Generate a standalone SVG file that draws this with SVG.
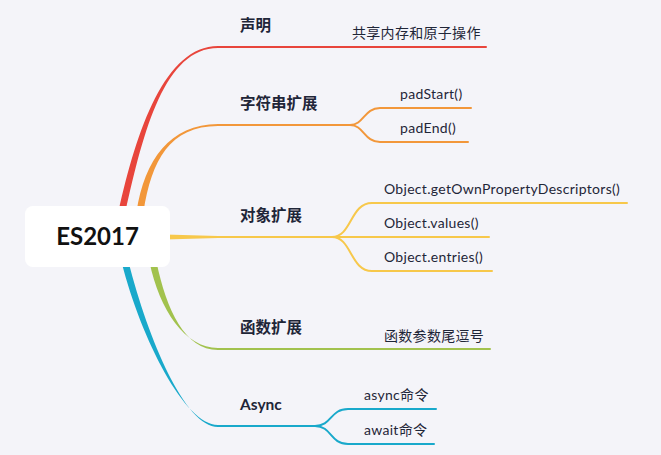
<svg xmlns="http://www.w3.org/2000/svg" width="661" height="455" viewBox="0 0 661 455">
<style>
.lbl{font-family:Lato,"Noto Sans CJK SC",sans-serif;font-size:15.5px;font-weight:700;fill:#1f2638}
.sub{font-family:Lato,"Noto Sans CJK SC",sans-serif;font-size:14px;letter-spacing:0.3px;fill:#1f2638}
.ln{fill:none;stroke-width:2;stroke-linecap:round}
.red{stroke:#e8453c}.org{stroke:#f2973a}.yel{stroke:#f7c84b}.grn{stroke:#a2c24e}.blu{stroke:#19a9cb}
</style>
<rect width="661" height="455" fill="#f4f4f9"/>
<g id="connectors">
<path d="M118.5,212 C136.5,130 165,46 218,46 L218,48 C165,48 143.5,130 125.5,212 Z" fill="#e8453c"/>
<path class="ln red" d="M218,47 L486,47"/>
<path d="M136.5,212 C144.5,160 170,124 218,124 L218,126 C170,126 151.5,160 143.5,212 Z" fill="#f2973a"/>
<path class="ln org" d="M218,125 L350,125 C364,125 364,108 380,108 L471,108"/>
<path class="ln org" d="M350,125 C364,125 364,142 380,142 L468,142"/>
<path d="M165,234.5 L218,236 L218,238 L165,239.5 Z" fill="#f7c84b"/>
<path class="ln yel" d="M218,237 L489,237"/>
<path class="ln yel" d="M332,237 C352,237 350,203 372,203 L627,203"/>
<path class="ln yel" d="M332,237 C352,237 350,271 372,271 L492,271"/>
<path d="M149.5,262 C159.5,310 185,348 218,348 L218,350 C185,350 166.5,310 156.5,262 Z" fill="#a2c24e"/>
<path class="ln grn" d="M218,349 L490,349"/>
<path d="M121.5,262 C141.5,340 185,425 218,425 L218,427 C185,427 148.5,340 128.5,262 Z" fill="#19a9cb"/>
<path class="ln blu" d="M218,426 L315,426 C332,426 330,409 348,409 L436,409"/>
<path class="ln blu" d="M315,426 C332,426 330,444 348,444 L434,444"/>
</g>
<g id="root">
<rect x="25" y="206" width="145" height="61" rx="8" fill="#ffffff"/>
<text x="97.5" y="245" text-anchor="middle" font-family="Lato,sans-serif" font-size="24" font-weight="700" fill="#111111">ES2017</text>
</g>
<g id="n-shengming"><text class="lbl" x="240" y="31">声明</text></g>
<g id="n-shared"><text class="sub" x="352" y="38">共享内存和原子操作</text></g>
<g id="n-string"><text class="lbl" x="240" y="109">字符串扩展</text></g>
<g id="n-padstart"><text class="sub" x="400" y="99">padStart()</text></g>
<g id="n-padend"><text class="sub" x="400" y="133">padEnd()</text></g>
<g id="n-object"><text class="lbl" x="240" y="221">对象扩展</text></g>
<g id="n-gopd"><text class="sub" x="384" y="194">Object.getOwnPropertyDescriptors()</text></g>
<g id="n-values"><text class="sub" x="384" y="228">Object.values()</text></g>
<g id="n-entries"><text class="sub" x="384" y="262">Object.entries()</text></g>
<g id="n-func"><text class="lbl" x="240" y="333">函数扩展</text></g>
<g id="n-comma"><text class="sub" x="384" y="341">函数参数尾逗号</text></g>
<g id="n-async"><text class="lbl" x="240" y="410">Async</text></g>
<g id="n-asynccmd"><text class="sub" x="364" y="400">async命令</text></g>
<g id="n-awaitcmd"><text class="sub" x="364" y="435">await命令</text></g>
</svg>
